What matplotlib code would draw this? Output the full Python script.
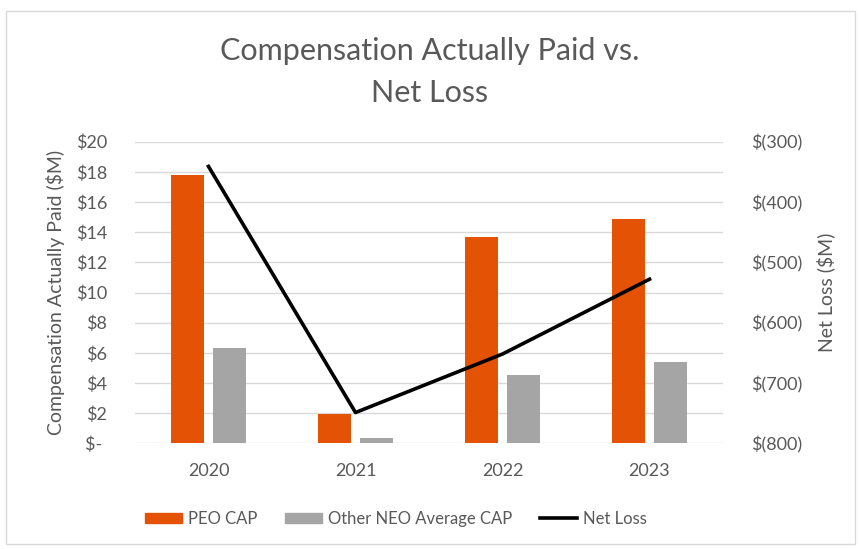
import numpy as np
import matplotlib.pyplot as plt
from matplotlib.patches import Rectangle
from matplotlib.lines import Line2D

# data
years = ['2020', '2021', '2022', '2023']
peo_cap = [17.8, 1.95, 13.7, 14.9]
neo_cap = [6.35, 0.35, 4.55, 5.4]
net_loss = [-341, -749, -652, -528]

left_ticks = [0, 2, 4, 6, 8, 10, 12, 14, 16, 18, 20]
left_labels = ['$- '] + ['$%d' % v for v in left_ticks[1:]]
right_ticks = [-800, -700, -600, -500, -400, -300]
right_labels = ['$(%d)' % -v for v in right_ticks]

orange = '#E35205'
gray = '#A5A5A5'
txt = '#595959'
plt.rcParams['font.family'] = ['Lato', 'DejaVu Sans']

fig = plt.figure(figsize=(8.6, 5.49), dpi=100)
fig.patches.append(Rectangle((6 / 860, 5 / 549), 849 / 860, 533 / 549,
                             transform=fig.transFigure, fill=False,
                             edgecolor='#D9D9D9', lw=1))

ax = fig.add_axes([135 / 860, 1 - 443.3 / 549, 588 / 860, 301.6 / 549])
x = np.arange(len(years))
w = 0.225
ax.bar(x - 0.0325 - w / 2, peo_cap, w, color=orange, zorder=2)
ax.bar(x + 0.0325 + w / 2, neo_cap, w, color=gray, zorder=2)
ax.set_xlim(-0.5, 3.5)
ax.set_ylim(0, 20)
ax.set_yticks(left_ticks)
ax.set_yticklabels(left_labels)
ax.set_xticks(x)
ax.set_xticklabels(years)
ax.grid(axis='y', color='#D9D9D9', lw=1, zorder=0)
ax.tick_params(length=0, labelsize=13, colors=txt)
ax.tick_params(axis='y', pad=20)
ax.tick_params(axis='x', pad=14)
for s in ax.spines.values():
    s.set_visible(False)
ax.set_ylabel('Compensation Actually Paid ($M)', fontsize=14, color=txt, labelpad=8)

ax2 = ax.twinx()
ax2.plot(x, net_loss, color='black', lw=2.6, zorder=3)
ax2.set_ylim(-800, -300)
ax2.set_yticks(right_ticks)
ax2.set_yticklabels(right_labels)
ax2.tick_params(length=0, labelsize=13, colors=txt, pad=20)
for s in ax2.spines.values():
    s.set_visible(False)
ax2.set_ylabel('Net Loss ($M)', fontsize=14, color=txt, labelpad=10)

fig.text(0.5, 1 - 72 / 549, 'Compensation Actually Paid vs.\nNet Loss',
         ha='center', va='center', fontsize=22, color=txt, linespacing=1.65)

handles = [Rectangle((0, 0), 1, 1, color=orange),
           Rectangle((0, 0), 1, 1, color=gray),
           Line2D([0], [0], color='black', lw=2.6)]
fig.legend(handles, ['PEO CAP', 'Other NEO Average CAP', 'Net Loss'],
           loc='center', bbox_to_anchor=(396 / 860, 1 - 519 / 549), ncol=3,
           frameon=False, fontsize=12, labelcolor=txt, handlelength=2.2,
           handleheight=0.6, handletextpad=0.35, columnspacing=1.7)

fig.savefig('out.png', dpi=100)
